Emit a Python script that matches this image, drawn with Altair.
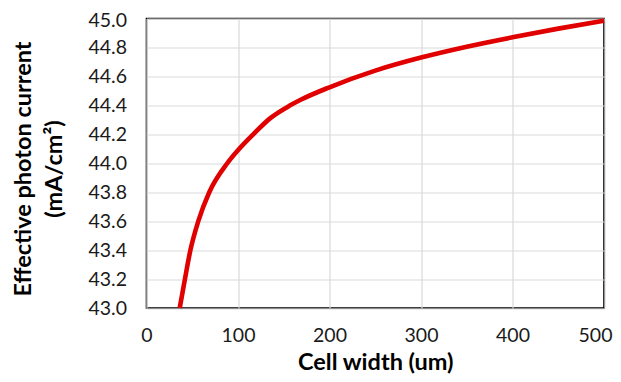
import altair as alt
import pandas as pd

# Cell width (um) and effective photon current (mA/cm^2)
cell_width = [36.3, 42, 48, 56.6, 68.6, 88.3, 100, 116.7, 135, 157, 168, 200, 250, 300, 350, 400, 450, 500]
current = [43.0, 43.2, 43.4, 43.6, 43.8, 44.0, 44.09, 44.2, 44.31, 44.4, 44.437, 44.525, 44.64,
           44.73, 44.805, 44.87, 44.93, 44.985]

x_ticks = [0, 100, 200, 300, 400, 500]
y_ticks = [43.0, 43.2, 43.4, 43.6, 43.8, 44.0, 44.2, 44.4, 44.6, 44.8, 45.0]

df = pd.DataFrame({"w": cell_width, "j": current})

FONT = "Lato"

chart = alt.Chart(df).mark_line(
    color="#E00000", strokeWidth=4.6, interpolate="monotone", strokeCap="butt"
).encode(
    x=alt.X(
        "w:Q",
        scale=alt.Scale(domain=[0, 500], nice=False, zero=False),
        axis=alt.Axis(
            values=x_ticks, format="d", title="Cell width (um)",
            titleX=228.75, titleY=61.5, titleBaseline="alphabetic", titleAnchor="middle",
            titleAlign="center",
            labelPadding=18, labelFlush=False,
            labelAlign={"condition": {"test": "datum.value == 500", "value": "right"}, "value": "center"},
            labelOffset={"condition": {"test": "datum.value == 500", "value": 8}, "value": 0},
        ),
    ),
    y=alt.Y(
        "j:Q",
        scale=alt.Scale(domain=[43.0, 45.0], nice=False, zero=False),
        axis=alt.Axis(
            values=y_ticks, format=".1f",
            title=["Effective photon current", "(mA/cm²)"],
            titleX=-135, titleY=150, titleBaseline="top", titleAlign="center",
            titleAngle=270, titleLineHeight=31,
            labelPadding=20,
            labelOffset={"condition": {"test": "datum.value >= 44.99", "value": 2}, "value": 0},
        ),
    ),
).properties(
    width=457.5,
    height=289.5,
    autosize=alt.AutoSizeParams(type="none"),
    padding={"left": 138.5, "top": 10.5, "right": 9, "bottom": 66},
    background="white",
).configure_axis(
    labelFont=FONT,
    titleFont=FONT,
    labelFontSize=19.5,
    labelColor="#1a1a1a",
    titleColor="#000000",
    titleFontSize=23.5,
    titleFontWeight="bold",
    domain=False,
    ticks=False,
    tickSize=0,
    grid=True,
    gridColor="#d9d9d9",
    gridWidth=1.2,
).configure_view(
    stroke="#000000",
    strokeWidth=1.6,
)

chart.save("out.html", embed_options={"renderer": "svg", "actions": False})
